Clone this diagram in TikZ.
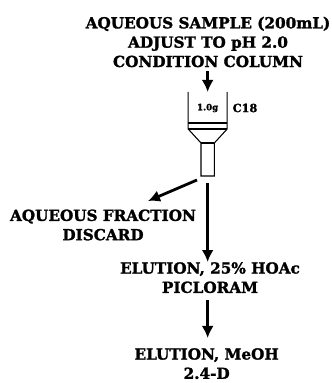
\documentclass[tikz,border=0pt]{standalone}
\usepackage{fontspec}
\setmainfont{DejaVu Serif}[BoldFeatures={FakeBold=1.6}]
\usepackage{xcolor}
\usetikzlibrary{arrows.meta, positioning, calc}

\begin{document}
\begin{tikzpicture}[
    node distance=1cm and 1cm,
    steptext/.style={align=center, inner sep=0pt, font=\fontsize{13}{16.5}\selectfont\bfseries},
    small/.style={inner sep=0pt, font=\fontsize{7.4}{8}\selectfont\bfseries},
    wall/.style={draw, line width=0.9pt},
    flow/.style={draw, ->, >={Latex[length=3.6mm,width=3.6mm]}, line width=2.4pt}
]
    \useasboundingbox (0,0) rectangle (9.96,-11.49);

    \node[steptext] (sample) at (6.24,-1.26) {AQUEOUS SAMPLE (200mL)\\ADJUST TO pH 2.0\\CONDITION COLUMN};
    \coordinate (colTop) at (6.23,-2.76);
    \coordinate[below=2.52cm of colTop] (colBottom);
    \coordinate[below=0.21cm of colBottom] (colOut);

    % column
    \draw[wall] ($(colTop)+(-0.585,0)$) -- ++(0,-1.11) -- ++(0.385,-0.42) -- ++(0,-0.99) -- ++(0.4,0) -- ++(0,0.99) -- ++(0.385,0.42) -- ++(0,1.11);
    \draw[wall] ($(colTop)+(-0.585,-0.93)$) -- ++(1.17,0);
    \draw[wall] ($(colTop)+(-0.585,-1.11)$) -- ++(1.17,0);
    \draw[wall] ($(colTop)+(-0.2,-1.53)$) -- ++(0.4,0);

    \node[small] (packing) at ($(colTop)+(0,-0.48)$) {1.0g};
    \node[small, font=\fontsize{9.6}{10}\selectfont\bfseries, right=0.42cm of packing] (phase) {C18};

    \node[steptext] (fraction) at (3.09,-6.75) {AQUEOUS FRACTION\\DISCARD};
    \node[steptext] (elutionA) at (6.3,-8.33) {ELUTION, 25\% HOAc\\PICLORAM};
    \node[steptext, below=1.64cm of elutionA, xshift=-0.1cm] (elutionB) {ELUTION, MeOH\\2.4-D};
    \coordinate (fractionEnd) at (4.44,-6.03);
    \coordinate (colSide) at (5.91,-5.4);

    \draw[flow] (colTop |- 0,-2.13) -- (colTop);
    \draw[flow] (colSide) -- (fractionEnd);
    \draw[flow] (colOut) -- (colOut |- elutionA.north);
    \draw[flow, shorten <=0.2cm, shorten >=0.3cm] (colOut |- elutionA.south) -- (colOut |- elutionB.north);
\end{tikzpicture}
\end{document}
